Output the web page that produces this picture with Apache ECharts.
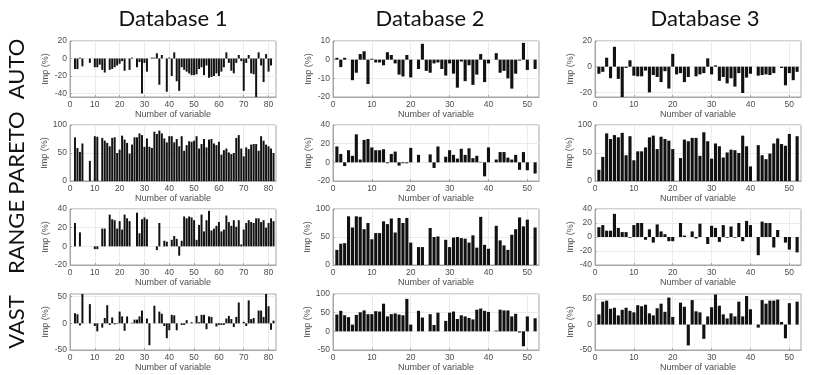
<!DOCTYPE html>
<html>
<head>
<meta charset="utf-8">
<script src="https://cdn.jsdelivr.net/npm/echarts@6/dist/echarts.min.js"></script>
<style>
  html, body { margin: 0; padding: 0; background: #fff; }
  #chart { width: 830px; height: 375px; }
</style>
</head>
<body>
<div id="chart"></div>
<script>
// column and row headers
const databases = ['Database 1', 'Database 2', 'Database 3'];
const methods = ['AUTO', 'PARETO', 'RANGE', 'VAST'];

// importance (%) per variable, index 0 = variable 1
const auto1 = [0,-12,-12,1,-9,0,0,-5,0,-10,-10,-7,-13,-16,0,-13,-12,-10,-8,-6,-3,-14,0,-13,1,0,-10,-4,-40,-5,
  -15,0,1,1,6,-30,4,0,-38,1,-20,7,-26,-37,-10,-13,-15,-17,-19,-19,-18,-12,-10,-19,-8,-22,-21,-20,-17,-20,
  -15,-10,7,-5,-14,-17,-5,4,-3,-37,-5,4,-17,-18,-44,7,-8,-27,5,-15,-8,0];
const auto2 = [1,-4,1,0,-11,-7,3,4.5,-13,0.5,-1.5,-1.5,-3,4,2.5,-2,-8,-9,2.5,-9.5,0,-5,8.5,-6,-7,-2,-1.5,-5,-8.5,-2,
  -7.5,-15,-1,-11.5,-3,-13.5,-8,3,-12,-2,0,3.5,-7,-6,-10,-15.5,-7.5,-0.5,9,-5.5,0,-5];
const auto3 = [-5.5,-4,7,-9,15.5,-9.5,-23.6,-1,5,-7,-7.5,-7.5,-3,-20,-6.5,-8,-12,-3.5,-17,10,-6,-5,-12,-8,0,-7.5,-6,-5,6.5,-6,
  1,-11,-8,-13,-9,-15.5,-5,-20.5,-8.5,-5.5,0,-7,-6.5,-6,-6.5,-5,0,-1,-14.5,-5,-10.5,-4];

const pareto1 = [0,78,59,52,67,0,0,36,0,80,79,0,77,72,68,62,77,78,50,56,81,74,68,49,65,78,78,85,82,61,
  76,61,59,88,84,90,85,76,69,80,80,69,75,62,80,54,64,71,70,72,80,58,66,75,60,74,75,67,64,70,
  47,55,58,51,48,50,77,82,58,44,60,57,65,66,66,54,80,72,65,62,58,50];
const pareto2 = [17,9,-4,13,7,30,3,24,25,16,13,13,14,-1,9,11.5,-3.5,-1,-1,15.5,0,8,0,0,8.5,-6,17,0,6,13,
  8,4,14.5,8,15,4.5,7,0.5,-15,16,0,3,11,11,5,3,8,-8,11,-8.5,0,-12];
const pareto3 = [20,43,85,75,82,78,86,46,80,37,53,53,60,78,81,57,79,75,72,57,0,41,74,71,77,77,45,87,71,40,
  67,62,42,51,56,55,50,81,62,26,0,64,46,39,49,67,76,66,63,84,0,80];

const range1 = [0,25,0,15,0,0,0,0,0,-3,-3,0,19,19,0,34,29,28,19,27,18,34,30,27,0,0,36,14,29,31,
  29,0,0,0,-4,25,0,6,5,0,7,11,8,-10,6,32,30,32,31,28,7,23,34,16,28,38,17,19,22,26,
  16,18,33,26,22,28,21,28,2,18,25,28,26,25,30,30,26,28,20,25,30,27];
const range2 = [27,38,39,87,67,87,86,64,75,46,57,57,78,73,83,58,84,75,84,40,0,32,32,0,66,50,51,0,45,32,
  49,50,48,47,40,53,31,86,36,29,0,70,44,35,27,54,64,85,69,81,0,67];
const range3 = [14,17,9,9,33,13,7,7,-1,17,20,20,-4,11,-8,18,8,4,-6,-6,0,20,2,0,8,-2,19,0,-10,16,
  13,-7,17,-1,15,-1,20,-6,23,17,0,-26,22,20,20,-15,10,0,-8,-18,0,-22];

const vast1 = [0,19,17,-4,55,0,0,36,0,-5,-15,0,-8,10,34,-3,11,-2,-1,22,13,-14,13,0,1,7,7,13,24,0,
  9,-41,0,33,0,22,18,-5,-28,-13,16,15,-13,0,-3,-3,6,0,2,0,14,2,16,16,-11,13,12,0,-6,-3,
  -3,-3,9,14,8,-7,12,39,0,3,-5,43,8,10,0,24,24,12,55,32,-12,5];
const vast2 = [45,55,43,38,18,44,51,56,46,46,54,53,74,40,46,48,45,43,87,18,0,55,37,0,46,17,50,0,28,50,
  53,33,43,40,36,32,58,61,55,52,0,2,58,56,56,40,47,-3,-40,40,0,35];
const vast3 = [20,45,47,31,33,18,29,33,27,24,38,36,39,22,18,32,41,25,53,15,0,43,35,-41,48,26,24,-28,16,34,
  59,37,20,12,22,16,45,16,56,30,0,-6,48,41,47,47,49,5,-27,42,0,45];

// y limits and tick labels per row / column
const yRange = [
  [[-44, 20], [-20, 10], [-23.6, 20]],
  [[0, 100], [-20, 40], [0, 100]],
  [[-20, 40], [0, 100], [-40, 40]],
  [[-50, 55], [-50, 100], [-50, 60]]
];
const yTicks = [
  [[-40, -20, 0, 20], [-20, -10, 0, 10], [-20, 0, 20]],
  [[0, 50, 100], [-20, 0, 20, 40], [0, 50, 100]],
  [[-20, 0, 20, 40], [0, 50, 100], [-40, -20, 0, 20, 40]],
  [[-50, 0, 50], [-50, 0, 50, 100], [-50, 0, 50]]
];
const xMax = [83, 53, 53];
const xTicks = [[0, 10, 20, 30, 40, 50, 60, 70, 80], [0, 10, 20, 30, 40, 50], [0, 10, 20, 30, 40, 50]];

const values = [
  [auto1, auto2, auto3],
  [pareto1, pareto2, pareto3],
  [range1, range2, range3],
  [vast1, vast2, vast3]
];

// layout
const colLeft = [70, 333, 595];
const rowTop = [41, 125, 209, 294];
const plotW = 206, plotH = 56;
const titleX = [168, 425, 700];
const tickColor = '#4d4d4d';

const grid = [], xAxis = [], yAxis = [], series = [];
let k = 0;
for (let r = 0; r < 4; r++) {
  for (let c = 0; c < 3; c++) {
    grid.push({
      left: colLeft[c], top: rowTop[r], width: plotW, height: plotH,
      show: true, borderColor: '#a6a6a6', borderWidth: 1
    });
    xAxis.push({
      type: 'value', gridIndex: k, min: 0, max: xMax[c],
      name: 'Number of variable', nameLocation: 'middle', nameGap: 13,
      nameTextStyle: { fontSize: 9, color: tickColor, fontFamily: 'Liberation Sans' },
      axisLine: { onZero: false, lineStyle: { color: '#a6a6a6' } },
      axisTick: { inside: true, length: 2, customValues: xTicks[c], lineStyle: { color: '#a6a6a6' } },
      axisLabel: { customValues: xTicks[c], fontSize: 8.5, color: tickColor, margin: 3, fontFamily: 'Liberation Sans' },
      splitLine: { show: true, lineStyle: { color: '#ebebeb', width: 1 } }
    });
    yAxis.push({
      type: 'value', gridIndex: k, min: yRange[r][c][0], max: yRange[r][c][1],
      name: 'Imp (%)', nameLocation: 'middle', nameGap: 20, nameRotate: 90,
      nameTextStyle: { fontSize: 9, color: tickColor, fontFamily: 'Liberation Sans' },
      axisLine: { show: true, lineStyle: { color: '#a6a6a6' } },
      axisTick: { show: true, inside: true, length: 2, customValues: yTicks[r][c], lineStyle: { color: '#a6a6a6' } },
      axisLabel: { customValues: yTicks[r][c], fontSize: 8.5, color: tickColor, margin: 3, fontFamily: 'Liberation Sans' },
      splitLine: { show: true, lineStyle: { color: '#ebebeb', width: 1 } }
    });
    series.push({
      type: 'bar', xAxisIndex: k, yAxisIndex: k,
      barWidth: Math.max(1.6, plotW / xMax[c] * 0.8),
      itemStyle: { color: '#111' },
      data: values[r][c].map((v, i) => [i + 1, v])
    });
    k++;
  }
}

const title = databases.map((d, c) => ({
  text: d, left: titleX[c], top: 3, textAlign: 'center',
  textStyle: { fontSize: 22, fontWeight: 'normal', color: '#111', fontFamily: 'Lato' }
}));

const graphic = methods.map((m, r) => ({
  type: 'text', x: 17, y: rowTop[r] + plotH / 2, rotation: Math.PI / 2,
  style: { text: m, fontSize: 22, fill: '#111', fontFamily: 'Lato', align: 'center', verticalAlign: 'middle' }
}));

const chart = echarts.init(document.getElementById('chart'), null, { renderer: 'canvas' });
chart.setOption({
  animation: false,
  backgroundColor: '#fff',
  title, grid, xAxis, yAxis, series, graphic
});
</script>
</body>
</html>
